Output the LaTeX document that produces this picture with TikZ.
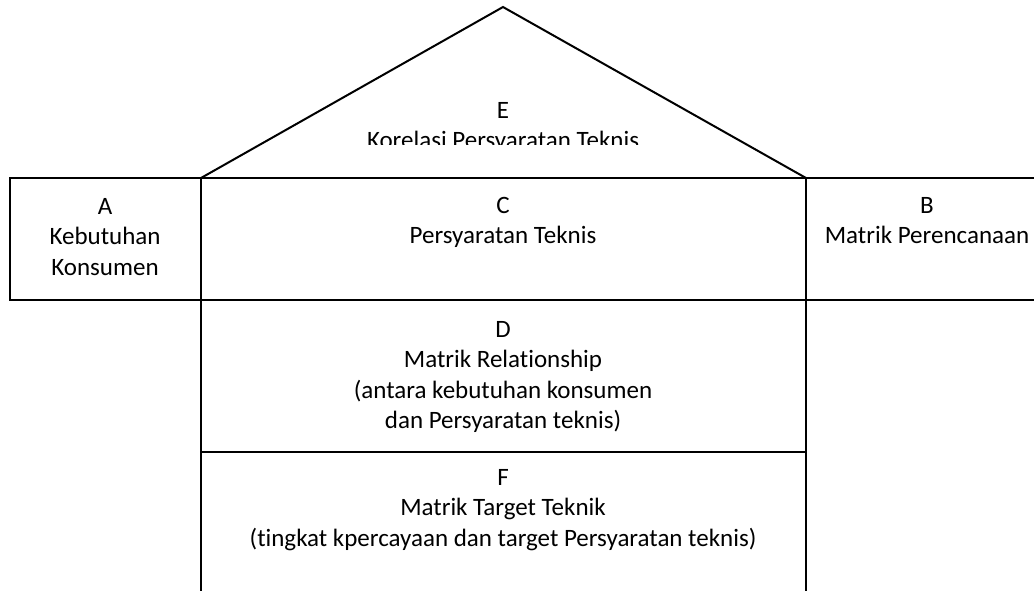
\documentclass[tikz,border=0pt]{standalone}
\usepackage{fontspec}
\setmainfont{Carlito}[Ligatures={NoCommon,NoDiscretionary}]
\begin{document}
\begin{tikzpicture}[x=1pt,y=-1pt,
  lbl/.style={anchor=north,align=center,inner sep=0pt,font=\fontsize{25}{30.5}\selectfont},
  edge/.style={line width=2pt}]
\useasboundingbox (0,0) rectangle (1034,590);
\begin{scope}
\clip (0,0) rectangle (1034,590);
% roof
\coordinate (apex) at (503,7);
\coordinate (bl) at (201,178);
\coordinate (br) at (806,178);
\draw[edge,line join=miter] (bl) -- (apex) -- (br);
% boxes
\draw[edge] (10,178) rectangle (201,300);
\draw[edge] (201,178) rectangle (806,300);
\draw[edge] (806,178) rectangle (1045,300);
\draw[edge] (201,300) rectangle (806,452);
\draw[edge] (201,600) -- (201,452) -- (806,452) -- (806,600);
\end{scope}
\begin{scope}
\clip (150,90) rectangle (850,144);
\node[lbl] (E) at (503,102) {E\\Korelasi Persyaratan Teknis};
\end{scope}
\node[lbl] (A) at (105,198) {A\\Kebutuhan\\Konsumen};
\node[lbl] (C) at (503,197) {C\\Persyaratan Teknis};
\node[lbl] (B) at (927,197) {B\\Matrik Perencanaan};
\node[lbl] (D) at (503,321) {D\\Matrik Relationship\\(antara kebutuhan konsumen\\dan Persyaratan teknis)};
\node[lbl] (F) at (503,469) {F\\Matrik Target Teknik\\(tingkat kpercayaan dan target Persyaratan teknis)};
\end{tikzpicture}
\end{document}
